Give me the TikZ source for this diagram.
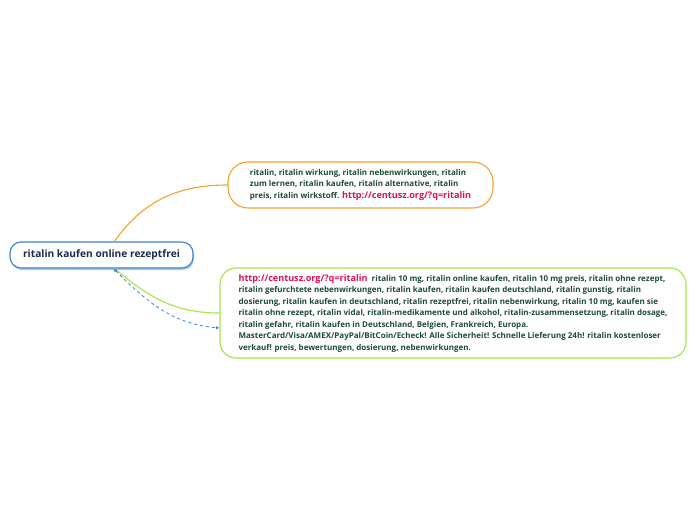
\documentclass[tikz,border=0pt]{standalone}
\usepackage{fontspec}
\setmainfont{Open Sans}
\usepackage{xcolor}
\usetikzlibrary{calc,positioning,shadows,arrows.meta}
\definecolor{rootblue}{HTML}{3A83C8}
\definecolor{rootshadow}{HTML}{A8CBEA}
\definecolor{rootink}{HTML}{1B2A4A}
\definecolor{leafink}{HTML}{1F4A36}
\definecolor{linkred}{HTML}{E0105A}
\definecolor{branchorange}{HTML}{F7A12B}
\definecolor{branchgreen}{HTML}{A2E64A}
\definecolor{dashblue}{HTML}{3A80E0}
\def\link#1{{\fontsize{9.1}{11.5}\selectfont\color{linkred}#1}}

\begin{document}
\begin{tikzpicture}
    [x=1pt,y=-1pt,
    root/.style={
      rectangle,
      draw=rootblue,
      line width=1.1pt,
      fill=white,
      rounded corners=11pt,
      minimum width=183pt,
      minimum height=26pt,
      font=\fontsize{10.2}{12}\selectfont\bfseries,
      text=rootink,
      drop shadow={shadow xshift=1pt,shadow yshift=-2pt,fill=rootshadow,opacity=1}
    },
    leaf/.style={
      rectangle,
      line width=1.1pt,
      fill=white,
      align=left,
      font=\fontsize{8}{11.5}\selectfont\bfseries,
      text=leafink
    },
    leaf1/.style={
      leaf,
      draw=branchorange,
      rounded corners=20pt,
      minimum width=265pt,
      minimum height=46pt
    },
    leaf2/.style={
      leaf,
      draw=branchgreen,
      rounded corners=16pt,
      minimum width=466pt,
      minimum height=90pt
    },
    branch/.style={
      draw,line width=1.1pt
    },
    relation/.style={
      draw=dashblue,
      line width=0.8pt,
      dash pattern=on 3pt off 3pt,
      {Latex[length=3.5pt,width=3.5pt]}-{Latex[length=3.5pt,width=3.5pt]}
    }
  ]
    \useasboundingbox[fill=white] (0,0) rectangle (696,520);
    \draw (101.5,255) node[root] (R) {ritalin kaufen online rezeptfrei};
    \draw (360.5,185) node[leaf1] (A) {ritalin, ritalin wirkung, ritalin nebenwirkungen, ritalin\\
      zum lernen, ritalin kaufen, ritalin alternative, ritalin\\
      preis, ritalin wirkstoff. \link{http://centusz.org/?q=ritalin}};
    \draw (453,313) node[leaf2] (B) {\link{http://centusz.org/?q=ritalin}\ \ ritalin 10 mg, ritalin online kaufen, ritalin 10 mg preis, ritalin ohne rezept,\\
      ritalin gefurchtete nebenwirkungen, ritalin kaufen, ritalin kaufen deutschland, ritalin gunstig, ritalin\\
      dosierung, ritalin kaufen in deutschland, ritalin rezeptfrei, ritalin nebenwirkung, ritalin 10 mg, kaufen sie\\
      ritalin ohne rezept, ritalin vidal, ritalin-medikamente und alkohol, ritalin-zusammensetzung, ritalin dosage,\\
      ritalin gefahr, ritalin kaufen in Deutschland, Belgien, Frankreich, Europa.\\
      MasterCard/Visa/AMEX/PayPal/BitCoin/Echeck! Alle Sicherheit! Schnelle Lieferung 24h! ritalin kostenloser\\
      verkauf! preis, bewertungen, dosierung, nebenwirkungen.};
    \draw[branch, branchorange] ([xshift=13pt]R.north) to [out=55,in=180] (A.west);
    \draw[branch, branchgreen] ([xshift=13pt]R.south) to [out=-40,in=180] (B.west);
    \draw[relation] ([xshift=12pt]R.south) to [out=-45,in=175] ([yshift=-15pt]B.west);
\end{tikzpicture}
\end{document}
